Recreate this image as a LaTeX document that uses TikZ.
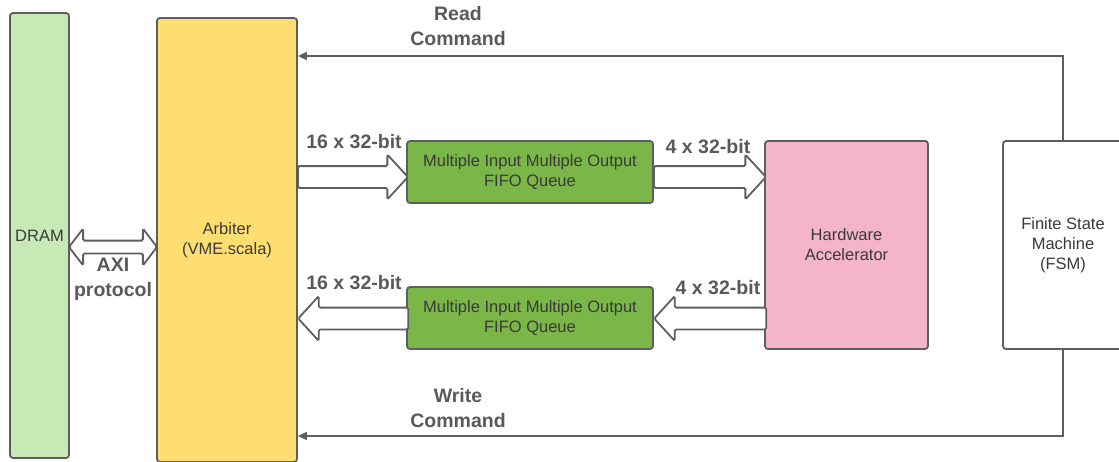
\documentclass[tikz,border=0pt]{standalone}
\usepackage{fontspec}
\setmainfont{Liberation Sans}
\usetikzlibrary{shapes.arrows,arrows.meta}

\definecolor{edgegray}{HTML}{5E5E5E}
\definecolor{txtgray}{HTML}{3A3A3A}
\definecolor{lblgray}{HTML}{595959}
\definecolor{dramgreen}{HTML}{C7E9B5}
\definecolor{arbyellow}{HTML}{FFDE71}
\definecolor{fifogreen}{HTML}{7AB648}
\definecolor{hwapink}{HTML}{F3B5C7}

\begin{document}
\begin{tikzpicture}[x=1pt, y=-1pt,
		block/.style={draw=edgegray, line width=1.8pt, rounded corners=3pt, inner sep=0pt,
			align=center, text=txtgray, font=\fontsize{16.5}{20}\selectfont},
		lbl/.style={align=center, text=lblgray, font=\fontsize{19.5}{24.5}\selectfont\bfseries},
		fatarrow/.style={single arrow, draw=edgegray, fill=white, line width=1.8pt,
			rounded corners=1.5pt, inner xsep=0pt, inner ysep=10pt, minimum width=0pt,
			single arrow head extend=11.5pt, single arrow tip angle=95},
		cmd/.style={draw=edgegray, line width=1.8pt, -{Triangle[length=9pt,width=8pt]}}]
			\useasboundingbox (0,0) rectangle (1119,461);
			\clip (0,0) rectangle (1119,461);
			
			\node[block, fill=dramgreen, minimum width=59, minimum height=445] (dram) at (39.5, 235.5){DRAM};
			\node[block, fill=arbyellow, minimum width=140, minimum height=444] (arb) at (227, 240){Arbiter\\(VME.scala)};
			
			\node[block, fill=fifogreen, minimum width=246, minimum height=62] (fifoA) at (530, 172){Multiple Input Multiple Output\\FIFO Queue};
			\node[block, fill=fifogreen, minimum width=246, minimum height=62] (fifoB) at (530, 318){Multiple Input Multiple Output\\FIFO Queue};
			
			\node[block, fill=hwapink, minimum width=163, minimum height=208] (hwa) at (846.5, 245){Hardware\\Accelerator};
			\node[block, fill=white, minimum width=120, minimum height=208] (fsm) at (1063, 245){Finite State\\Machine\\(FSM)};
			
			% wide data paths
			\node[fatarrow, anchor=tail, minimum height=110] (inA) at (297, 177){};
			\node[fatarrow, anchor=tail, minimum height=112] (outA) at (653, 177){};
			\node[fatarrow, shape border rotate=180, anchor=tip, minimum height=110] (outB) at (297, 318.5){};
			\node[fatarrow, shape border rotate=180, anchor=tip, minimum height=112] (inB) at (653, 318.5){};
			\node[double arrow, draw=edgegray, fill=white, line width=1.8pt, rounded corners=1.5pt,
				inner xsep=0pt, inner ysep=5.5pt, minimum width=0pt, minimum height=88,
				double arrow head extend=12pt, double arrow tip angle=105] (axi) at (113, 247){};
			
			\node[lbl] (axilbl) at (113, 279.5){AXI\\protocol};
			\node[lbl] (inAlbl) at (354, 142){16 x 32-bit};
			\node[lbl] (outAlbl) at (708, 147){4 x 32-bit};
			\node[lbl] (outBlbl) at (354, 283){16 x 32-bit};
			\node[lbl] (inBlbl) at (718, 288){4 x 32-bit};
			
			% commands from the FSM
			\draw[cmd] (fsm.north) |- (arb.east |- 0,56);
			\draw[cmd] (fsm.south) |- (arb.east |- 0,436);
			\node[lbl] (rdlbl) at (458, 26){Read\\Command};
			\node[lbl] (wrlbl) at (458, 408){Write\\Command};
		\end{tikzpicture}
\end{document}
